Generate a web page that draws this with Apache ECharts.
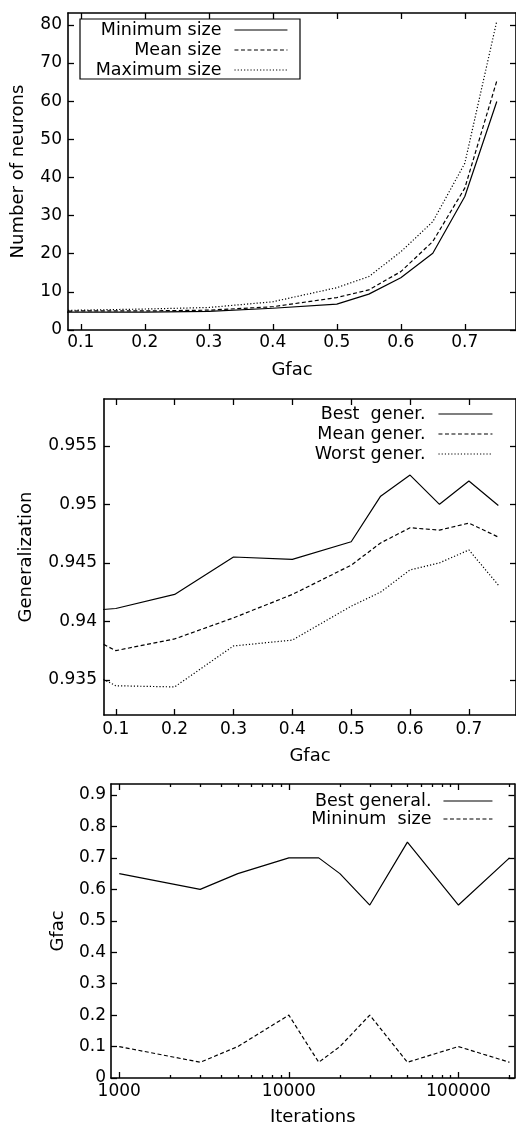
<!DOCTYPE html>
<html><head><meta charset="utf-8">
<script src="https://cdn.jsdelivr.net/npm/echarts@6/dist/echarts.min.js"></script>
<style>html,body{margin:0;padding:0;background:#fff}#c{width:516px;height:1127px}</style>
</head><body><div id="c"></div>
<script>
// ---- Chart 1: Number of neurons vs Gfac ----
const gfacA = [0.05, 0.1, 0.2, 0.3, 0.4, 0.5, 0.55, 0.6, 0.65, 0.7, 0.75];
const minSize = [4.7, 4.7, 4.7, 4.9, 5.7, 6.8, 9.4, 13.7, 20.1, 35.0, 59.9];
const meanSize = [4.9, 5.0, 5.0, 5.2, 6.1, 8.5, 10.5, 15.3, 23.2, 37.2, 65.3];
const maxSize = [5.1, 5.2, 5.5, 5.9, 7.4, 11.1, 14.0, 20.5, 28.4, 43.7, 81.0];
const xTicksGfac = [0.1, 0.2, 0.3, 0.4, 0.5, 0.6, 0.7];
const yTicksNeurons = [0, 10, 20, 30, 40, 50, 60, 70, 80];

// ---- Chart 2: Generalization vs Gfac ----
const gfacB = [0.05, 0.1, 0.2, 0.3, 0.4, 0.5, 0.55, 0.6, 0.65, 0.7, 0.75];
const bestGener = [0.9409, 0.9411, 0.9423, 0.9455, 0.9453, 0.9468, 0.9507, 0.9525, 0.9500, 0.9520, 0.9499];
const meanGener = [0.9388, 0.9375, 0.9385, 0.9403, 0.9423, 0.9448, 0.9467, 0.9480, 0.9478, 0.9484, 0.9472];
const worstGener = [0.9358, 0.9345, 0.9344, 0.9379, 0.9384, 0.9413, 0.9425, 0.9444, 0.9450, 0.9461, 0.9431];
const yTicksGener = [0.935, 0.94, 0.945, 0.95, 0.955];

// ---- Chart 3: Gfac vs Iterations ----
const iterations = [1000, 3000, 5000, 10000, 15000, 20000, 30000, 50000, 100000, 200000];
const bestGeneral = [0.65, 0.6, 0.65, 0.7, 0.7, 0.65, 0.55, 0.75, 0.55, 0.7];
const mininumSize = [0.1, 0.05, 0.1, 0.2, 0.05, 0.1, 0.2, 0.05, 0.1, 0.05];
const xTicksIter = [1000, 10000, 100000];
const xMinorIter = [2000, 3000, 4000, 5000, 6000, 7000, 8000, 9000, 20000, 30000, 40000, 50000, 60000, 70000, 80000, 90000, 200000];
const yTicksGfac = [0, 0.1, 0.2, 0.3, 0.4, 0.5, 0.6, 0.7, 0.8, 0.9];

const FONT = 'DejaVu Sans';
const INK = '#000';
const FS_TICK = 17, FS_NAME = 18, FS_LEG = 17.5;

function pairs(xs, ys) { return xs.map((x, i) => [x, ys[i]]); }

function baseAxis(gi, type, min, max, pos, showLine) {
  return {
    gridIndex: gi, type, min, max, position: pos,
    splitLine: { show: false },
    axisLine: { show: showLine, onZero: false, lineStyle: { color: INK, width: 1.6 } }
  };
}
function mainAxis(gi, type, min, max, pos, ticks, margin, name, nameGap) {
  return Object.assign(baseAxis(gi, type, min, max, pos, true), {
    name, nameLocation: 'middle', nameGap,
    nameTextStyle: { fontFamily: FONT, fontSize: FS_NAME, color: INK },
    axisTick: { show: true, inside: true, length: 6, customValues: ticks, lineStyle: { color: INK, width: 1.3 } },
    axisLabel: { show: true, customValues: ticks, margin, formatter: v => String(v),
      fontFamily: FONT, fontSize: FS_TICK, color: INK }
  });
}
function mirrorAxis(gi, type, min, max, pos, ticks, len, showLine) {
  return Object.assign(baseAxis(gi, type, min, max, pos, showLine), {
    axisTick: { show: true, inside: true, length: len, customValues: ticks, lineStyle: { color: INK, width: 1.3 } },
    axisLabel: { show: false }
  });
}

const G1 = { min: 0.08, max: 0.78 }, Y1 = { min: 0, max: 83.1 };
const G2 = { min: 0.08, max: 0.78 }, Y2 = { min: 0.932, max: 0.959 };
const G3 = { min: 894, max: 214000 }, Y3 = { min: 0, max: 0.935 };

const xAxis = [
  mainAxis(0, 'value', G1.min, G1.max, 'bottom', xTicksGfac, 4, 'Gfac', 31),
  mirrorAxis(0, 'value', G1.min, G1.max, 'top', xTicksGfac, 6, true),
  mainAxis(1, 'value', G2.min, G2.max, 'bottom', xTicksGfac, 6, 'Gfac', 32),
  mirrorAxis(1, 'value', G2.min, G2.max, 'top', xTicksGfac, 6, true),
  mainAxis(2, 'log', G3.min, G3.max, 'bottom', xTicksIter, 5, 'Iterations', 30),
  mirrorAxis(2, 'log', G3.min, G3.max, 'bottom', xMinorIter, 3, false),
  mirrorAxis(2, 'log', G3.min, G3.max, 'top', xTicksIter, 6, true),
  mirrorAxis(2, 'log', G3.min, G3.max, 'top', xMinorIter, 3, false)
];
const yAxis = [
  mainAxis(0, 'value', Y1.min, Y1.max, 'left', yTicksNeurons, 6, 'Number of neurons', 41),
  mirrorAxis(0, 'value', Y1.min, Y1.max, 'right', yTicksNeurons, 6, true),
  mainAxis(1, 'value', Y2.min, Y2.max, 'left', yTicksGener, 7, 'Generalization', 69),
  mirrorAxis(1, 'value', Y2.min, Y2.max, 'right', yTicksGener, 6, true),
  mainAxis(2, 'value', Y3.min, Y3.max, 'left', yTicksGfac, 5, 'Gfac', 44),
  mirrorAxis(2, 'value', Y3.min, Y3.max, 'right', yTicksGfac, 6, true)
];

const SOLID = 'solid', DASH = [4, 2.5], DOT = [1.2, 2];
function line(name, xi, yi, data, dash) {
  return { name, type: 'line', xAxisIndex: xi, yAxisIndex: yi, data, symbol: 'none', clip: true,
    lineStyle: { color: INK, width: 1.2, type: dash }, itemStyle: { color: INK }, silent: true, animation: false };
}
const series = [
  line('Minimum size', 0, 0, pairs(gfacA, minSize), SOLID),
  line('Mean size', 0, 0, pairs(gfacA, meanSize), DASH),
  line('Maximum size', 0, 0, pairs(gfacA, maxSize), DOT),
  line('Best  gener.', 2, 2, pairs(gfacB, bestGener), SOLID),
  line('Mean gener.', 2, 2, pairs(gfacB, meanGener), DASH),
  line('Worst gener.', 2, 2, pairs(gfacB, worstGener), DOT),
  line('Best general.', 4, 4, pairs(iterations, bestGeneral), SOLID),
  line('Mininum  size', 4, 4, pairs(iterations, mininumSize), DASH)
];

function leg(name, right, top, w, gap) {
  return { data: [name], right, top, orient: 'vertical', align: 'right', padding: 0,
    itemWidth: w, itemHeight: 10, selectedMode: false,
    itemStyle: { opacity: 0 },
    lineStyle: { width: 1.1 },
    textStyle: { fontFamily: FONT, fontSize: FS_LEG, color: INK, lineHeight: 18, padding: [0, gap, 0, 0] } };
}
const legend = [
  leg('Minimum size', 228, 21, 53, 8),
  leg('Mean size', 228, 41, 53, 8),
  leg('Maximum size', 228, 61, 53, 8),
  leg('Best  gener.', 23, 405, 54, 8),
  leg('Mean gener.', 23, 425, 54, 8),
  leg('Worst gener.', 23, 445, 54, 8),
  leg('Best general.', 23, 792, 49, 7),
  leg('Mininum  size', 23, 810, 49, 7)
];

const chart = echarts.init(document.getElementById('c'), null, { renderer: 'canvas' });
chart.setOption({
  animation: false,
  backgroundColor: '#fff',
  grid: [
    { left: 68, top: 13, width: 451, height: 317 },
    { left: 104, top: 399, width: 415, height: 316 },
    { left: 111, top: 784, width: 403.5, height: 294 }
  ],
  xAxis, yAxis, series, legend,
  graphic: [
    { type: 'rect', shape: { x: 80, y: 19, width: 220, height: 60 },
      style: { fill: 'none', stroke: INK, lineWidth: 1.2 }, silent: true }
  ]
});
</script>
</body></html>
